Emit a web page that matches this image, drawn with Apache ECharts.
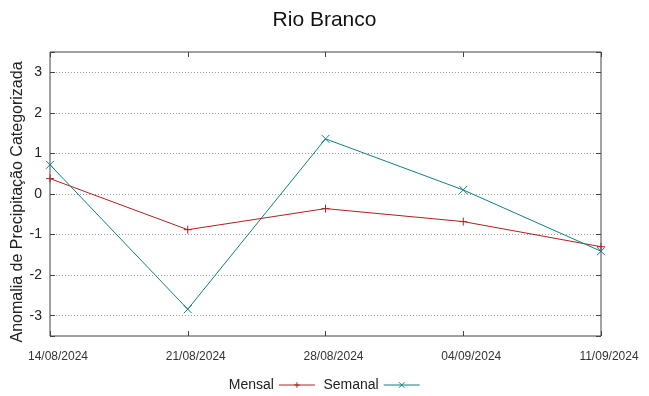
<!DOCTYPE html>
<html>
<head>
<meta charset="utf-8">
<script src="https://cdn.jsdelivr.net/npm/echarts@6/dist/echarts.min.js"></script>
<style>
html,body{margin:0;padding:0;background:#fff;}
#chart{width:649px;height:396px;}
</style>
</head>
<body>
<div id="chart"></div>
<script>
var titleText = 'Rio Branco';
var yAxisName = 'Anomalia de Precipitação Categorizada';
var categories = ['14/08/2024', '21/08/2024', '28/08/2024', '04/09/2024', '11/09/2024'];
var mensal = [0.38, -0.88, -0.36, -0.68, -1.30];
var semanal = [0.72, -2.84, 1.36, 0.10, -1.41];
var seriesNames = ['Mensal', 'Semanal'];
var yMin = -3.5, yMax = 3.5;

var font = 'Liberation Sans, Arial, sans-serif';
var axisColor = '#444';
var chart = echarts.init(document.getElementById('chart'), null, {renderer: 'canvas'});

function yLabel(v) { return Number.isInteger(v) ? String(v) : ''; }

chart.setOption({
  animation: false,
  backgroundColor: '#fff',
  title: {
    text: titleText, left: 'center', top: 5,
    textStyle: {fontFamily: font, fontSize: 21, fontWeight: 'normal', color: '#111'}
  },
  legend: {
    data: seriesNames, top: 373, left: 'center', align: 'right',
    itemWidth: 36, itemHeight: 7, itemGap: 8,
    itemStyle: {borderWidth: 1, color: 'transparent'},
    lineStyle: {width: 1},
    textStyle: {fontFamily: font, fontSize: 14, color: '#222'}
  },
  grid: {
    left: 50, right: 48, top: 52, bottom: 60,
    outerBoundsMode: 'none', containLabel: false,
    show: true, borderColor: axisColor, borderWidth: 1, backgroundColor: 'transparent'
  },
  xAxis: [{
    type: 'category', data: categories, boundaryGap: false, position: 'bottom',
    axisLine: {show: false, onZero: false},
    axisTick: {show: true, inside: true, length: 5, lineStyle: {color: axisColor}},
    axisLabel: {fontFamily: font, fontSize: 12, color: '#333', margin: 15, padding: [0, 0, 0, 16], showMinLabel: true, showMaxLabel: true, interval: 0},
    splitLine: {show: false}
  }, {
    type: 'category', data: categories, boundaryGap: false, position: 'top',
    axisLine: {show: false, onZero: false},
    axisTick: {show: true, inside: true, length: 5, lineStyle: {color: axisColor}},
    axisLabel: {show: false},
    splitLine: {show: false}
  }],
  yAxis: [{
    type: 'value', min: yMin, max: yMax, splitNumber: 7, position: 'left',
    name: yAxisName, nameLocation: 'middle', nameGap: 24, nameMoveOverlap: false,
    nameTextStyle: {fontFamily: font, fontSize: 16, color: '#222', padding: [0, 16, 0, 0]},
    axisLine: {show: false, onZero: false},
    axisTick: {show: true, inside: true, length: 5, lineStyle: {color: axisColor}},
    axisLabel: {fontFamily: font, fontSize: 14, color: '#222', margin: 8, formatter: yLabel},
    splitLine: {show: true, lineStyle: {color: '#999', type: [1, 2], width: 1}}
  }, {
    type: 'value', min: yMin, max: yMax, splitNumber: 7, position: 'right',
    axisLine: {show: false, onZero: false},
    axisTick: {show: true, inside: true, length: 5, lineStyle: {color: axisColor}},
    axisLabel: {show: false},
    splitLine: {show: false}
  }],
  series: [{
    name: seriesNames[0], type: 'line', data: mensal, xAxisIndex: 0, yAxisIndex: 0,
    symbol: 'path://M0,5L10,5M5,0L5,10', symbolSize: 8, showAllSymbol: true,
    lineStyle: {color: '#b02020', width: 1},
    itemStyle: {color: 'transparent', borderColor: '#b02020', borderWidth: 1}
  }, {
    name: seriesNames[1], type: 'line', data: semanal, xAxisIndex: 0, yAxisIndex: 0,
    symbol: 'path://M0,0L10,10M0,10L10,0', symbolSize: 8, showAllSymbol: true,
    lineStyle: {color: '#108080', width: 1},
    itemStyle: {color: 'transparent', borderColor: '#108080', borderWidth: 1}
  }]
});
</script>
</body>
</html>
